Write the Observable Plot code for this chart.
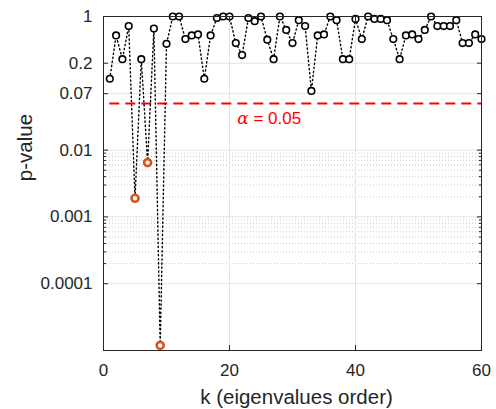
<!DOCTYPE html>
<html><head><meta charset="utf-8">
<script src="https://cdn.jsdelivr.net/npm/d3@7"></script>
<script src="https://cdn.jsdelivr.net/npm/@observablehq/plot@0.6"></script>
<style>body{margin:0;background:#fff;} svg{display:block;}</style>
</head><body><div id="chart"></div>
<script>
const k = [1,2,3,4,5,6,7,8,9,10,11,12,13,14,15,16,17,18,19,20,21,22,23,24,25,26,27,28,29,30,31,32,33,34,35,36,37,38,39,40,41,42,43,44,45,46,47,48,49,50,51,52,53,54,55,56,57,58,59,60];
const pValues = [0.117,0.52,0.23,0.72,0.0019,0.23,0.0065,0.66,1.19e-5,0.39,
  1.0,1.0,0.46,0.52,0.54,0.117,0.52,0.95,1.0,1.0,
  0.40,0.265,0.95,0.85,1.0,0.45,0.23,1.0,0.63,0.40,
  0.88,0.72,0.077,0.52,0.54,1.0,0.88,0.23,0.23,0.92,
  0.46,1.0,0.92,0.92,0.88,0.46,0.23,0.52,0.54,0.46,
  0.63,1.0,0.72,0.72,0.72,0.88,0.40,0.40,0.54,0.46];
const alphaLevel = 0.05;
const xTicks = [0,20,40,60];
const yTicks = [1,0.2,0.07,0.01,0.001,0.0001];
const yTickLabels = ["1","0.2","0.07","0.01","0.001","0.0001"];
const yMinor = [0.009,0.008,0.007,0.006,0.005,0.004,0.003,0.002,0.0009,0.0008,0.0007,0.0006,0.0005,0.0004,0.0003,0.0002];
const alphaLabel = "α = 0.05";
const alphaLabelK = [26.3];
const alphaLabelP = [0.03];
const xLabel = "k (eigenvalues order)";
const yLabel = "p-value";

const data = k.map((kk, i) => ({k: kk, p: pValues[i], sig: pValues[i] < alphaLevel}));
const yTickData = yTicks.map((v, i) => ({v, label: yTickLabels[i]}));
const font = "'Liberation Sans', Arial, Helvetica, sans-serif";
const ink = "#262626";

const chart = Plot.plot({
  width: 496, height: 409,
  marginLeft: 103, marginRight: 15, marginTop: 16, marginBottom: 59,
  style: {fontFamily: font, fontSize: "17px", color: ink, background: "white"},
  x: {domain: [0, 60]},
  y: {type: "log", domain: [1e-5, 1]},
  marks: [
    Plot.ruleY(yMinor, {stroke: "#bdbdbd", strokeDasharray: "1,2", strokeWidth: 0.8}),
    Plot.ruleY(yTicks, {stroke: "#e3e3e3"}),
    Plot.ruleX(xTicks, {stroke: "#e3e3e3"}),
    Plot.ruleY([alphaLevel], {x1: 1, x2: 60, stroke: "#ff0000", strokeWidth: 2, strokeDasharray: "10,6"}),
    Plot.line(data, {x: "k", y: "p", stroke: "black", strokeWidth: 1.4, strokeDasharray: "1.3,2.8"}),
    Plot.dot(data.filter(d => !d.sig), {x: "k", y: "p", r: 3.3, stroke: "black", fill: "white", strokeWidth: 1.6}),
    Plot.dot(data.filter(d => d.sig), {x: "k", y: "p", r: 3.5, stroke: "#D95319", fill: "white", strokeWidth: 2.6}),
    Plot.text([alphaLabel], {x: () => alphaLabelK[0], y: () => alphaLabelP[0], fill: "#ff0000", fontSize: 17}),
    Plot.axisX({ticks: xTicks, tickSize: -5, tickPadding: 18, label: null}),
    Plot.axisX({anchor: "top", ticks: xTicks, tickSize: -5, tickFormat: () => "", label: null}),
    Plot.axisY({ticks: yTicks, tickSize: -5, tickFormat: () => "", label: null}),
    Plot.text(yTickData, {y: "v", text: "label", frameAnchor: "left", textAnchor: "end", lineAnchor: "middle", dx: -11, fill: ink, fontSize: 17}),
    Plot.axisY({ticks: yMinor, tickSize: -3, tickFormat: () => "", label: null}),
    Plot.axisY({anchor: "right", ticks: yTicks, tickSize: -5, tickFormat: () => "", label: null}),
    Plot.axisY({anchor: "right", ticks: yMinor, tickSize: -3, tickFormat: () => "", label: null}),
    Plot.frame({stroke: ink}),
    Plot.text([yLabel], {frameAnchor: "left", textAnchor: "middle", lineAnchor: "middle", dx: -78, dy: -36, rotate: -90, fontSize: 20.5, fill: ink}),
    Plot.text([xLabel], {frameAnchor: "bottom", textAnchor: "middle", lineAnchor: "middle", dx: 4, dy: 47, fontSize: 20.5, fill: ink})
  ]
});
for (const t of chart.querySelectorAll("text")) {
  if (t.textContent === alphaLabel) {
    t.innerHTML = '<tspan font-style="italic" font-family="\'DejaVu Serif\', serif">α</tspan> = 0.05';
  }
}
document.getElementById("chart").appendChild(chart);
</script>
</body></html>
